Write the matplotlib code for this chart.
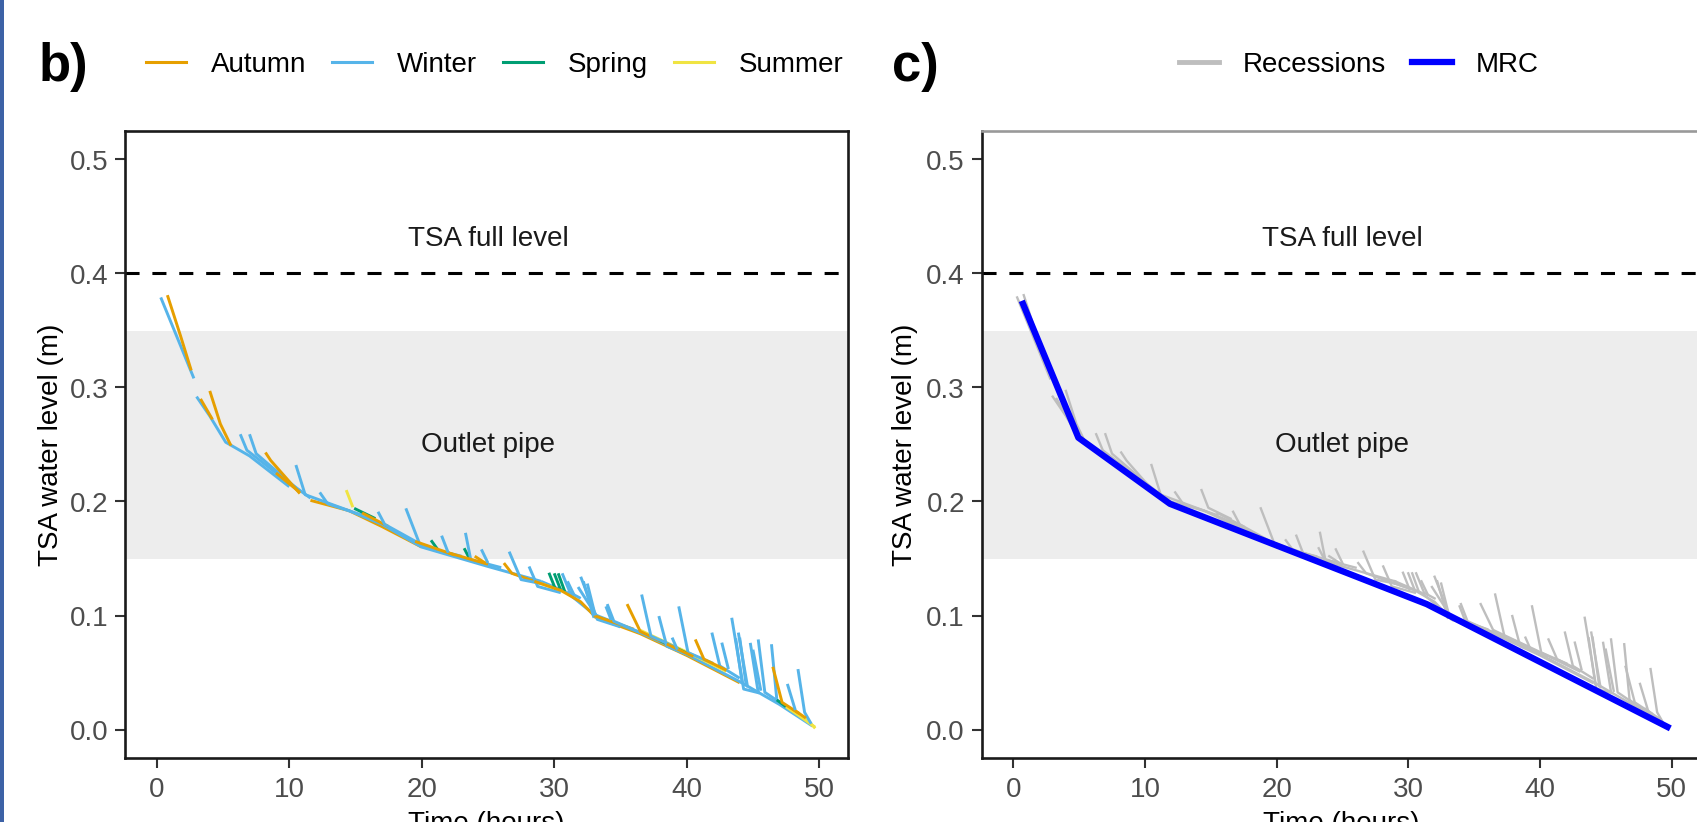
import matplotlib
matplotlib.use("Agg")
import matplotlib.pyplot as plt
from matplotlib.lines import Line2D
from matplotlib.patches import Rectangle

plt.rcParams['font.family'] = ['Liberation Sans', 'DejaVu Sans']

# ---------------- data ----------------
seasons = ['Autumn', 'Winter', 'Spring', 'Summer']
season_colors = {'Autumn': '#E69F00', 'Winter': '#56B4E9',
                 'Spring': '#009E73', 'Summer': '#F0E442'}

# individual recession curves (time in hours, TSA water level in m); one entry per row
rec_season = [
    'Autumn', 'Winter', 'Autumn', 'Winter',
    'Winter', 'Autumn', 'Winter', 'Autumn',
    'Autumn', 'Winter', 'Winter', 'Autumn',
    'Autumn', 'Winter', 'Winter', 'Summer',
    'Spring', 'Autumn', 'Winter', 'Winter',
    'Spring', 'Autumn', 'Spring', 'Winter',
    'Autumn', 'Autumn', 'Winter', 'Winter',
    'Summer', 'Spring', 'Spring', 'Spring',
    'Winter', 'Autumn', 'Winter', 'Winter',
    'Winter', 'Autumn', 'Winter', 'Winter',
    'Summer', 'Autumn', 'Spring', 'Winter',
    'Winter', 'Winter', 'Autumn', 'Winter',
    'Winter', 'Winter', 'Winter', 'Winter',
    'Winter', 'Winter', 'Winter', 'Spring',
    'Autumn', 'Winter', 'Summer', 'Autumn',
    'Summer', 'Winter', 'Autumn',
    'Winter', 'Winter', 'Autumn', 'Winter',
    'Winter', 'Winter', 'Winter', 'Winter',
]
rec_x = [
    [11.6, 14.5, 17.0, 20.0], [17.0, 20.0, 25.0, 29.0], [33.0, 36.5, 40.0, 44.0],
    [29.0, 31.0, 33.0, 36.5, 40.0, 44.0, 47.0, 49.5],
    [0.3, 1.5, 2.8], [0.8, 1.8, 2.6], [3.0, 4.0, 5.2, 7.0, 10.0], [4.0, 4.8, 5.6],
    [3.3, 4.2], [6.3, 6.8, 9.0, 11.6], [7.0, 7.5, 10.5], [8.2, 8.6, 10.8],
    [9.0, 10.8], [10.5, 11.2, 14.5, 17.0], [12.3, 12.9, 15.5], [14.3, 14.8],
    [14.9, 16.5], [15.5, 17.5], [16.7, 17.2, 20.0], [18.8, 19.9, 23.0],
    [20.7, 21.2], [19.5, 21.5, 22.5], [23.2, 23.6], [23.3, 23.7, 26.0],
    [22.0, 25.0], [26.2, 26.8, 28.5], [26.6, 27.5, 29.0], [28.1, 28.75, 30.5],
    [29.0, 30.0], [29.6, 30.1], [30.0, 30.5], [30.3, 30.8],
    [30.6, 31.2, 32.0], [28.5, 30.5, 32.0, 33.0], [32.0, 33.25, 35.0], [32.2, 33.0],
    [31.8, 33.4], [33.0, 36.0], [33.9, 34.3], [34.0, 34.5, 36.5],
    [36.5, 40.0, 43.0], [35.5, 36.5, 39.0], [38.0, 40.0], [36.6, 37.3, 39.0],
    [37.9, 38.5, 40.0], [39.4, 40.1, 42.0], [38.5, 40.5], [38.9, 39.3],
    [41.9, 42.5, 44.0], [42.65, 43.15], [43.4, 44.3, 45.5], [43.7, 44.2],
    [44.0, 44.5], [44.8, 45.4], [45.4, 45.9, 47.0], [46.8, 47.5],
    [40.65, 41.3, 43.0], [46.4, 46.8], [47.5, 48.5, 49.7], [46.5, 47.2, 48.5],
    [49.0, 49.7], [48.4, 48.9, 49.4], [48.0, 49.0],
    [21.5, 22.0], [24.5, 25.0], [24.0, 24.8], [31.0, 31.5],
    [32.5, 33.1], [45.0, 45.6], [43.9, 44.6], [47.6, 48.2],
]
rec_y = [
    [0.201, 0.192, 0.178, 0.160], [0.180, 0.160, 0.143, 0.130], [0.099, 0.084, 0.065, 0.041],
    [0.130, 0.120, 0.101, 0.085, 0.066, 0.042, 0.022, 0.003],
    [0.379, 0.345, 0.308], [0.381, 0.345, 0.315], [0.292, 0.275, 0.252, 0.240, 0.213], [0.297, 0.268, 0.249],
    [0.290, 0.272], [0.259, 0.245, 0.225, 0.203], [0.259, 0.242, 0.212], [0.243, 0.236, 0.207],
    [0.225, 0.208], [0.232, 0.206, 0.192, 0.180], [0.208, 0.198, 0.188], [0.210, 0.195],
    [0.194, 0.185], [0.190, 0.178], [0.191, 0.180, 0.162], [0.194, 0.161, 0.152],
    [0.166, 0.158], [0.165, 0.157, 0.153], [0.159, 0.150], [0.1725, 0.149, 0.142],
    [0.155, 0.145], [0.146, 0.137, 0.130], [0.156, 0.1315, 0.128], [0.143, 0.1255, 0.120],
    [0.128, 0.124], [0.1375, 0.123], [0.137, 0.122], [0.137, 0.121],
    [0.137, 0.120, 0.115], [0.130, 0.122, 0.112, 0.100], [0.134, 0.0966, 0.090], [0.130, 0.098],
    [0.125, 0.096], [0.100, 0.088], [0.108, 0.096], [0.110, 0.095, 0.085],
    [0.087, 0.068, 0.051], [0.110, 0.086, 0.072], [0.078, 0.067], [0.1184, 0.082, 0.073],
    [0.0995, 0.073, 0.066], [0.108, 0.0675, 0.058], [0.075, 0.064], [0.0806, 0.070],
    [0.085, 0.0558, 0.045], [0.0762, 0.053], [0.098, 0.0355, 0.032], [0.080, 0.040],
    [0.0806, 0.038], [0.076, 0.0326], [0.079, 0.0326, 0.024], [0.026, 0.020],
    [0.079, 0.0617, 0.052], [0.0748, 0.0267], [0.020, 0.012, 0.002], [0.055, 0.0238, 0.014],
    [0.010, 0.001], [0.053, 0.0151, 0.005], [0.018, 0.010],
    [0.170, 0.155], [0.158, 0.146], [0.152, 0.146], [0.130, 0.118],
    [0.128, 0.100], [0.070, 0.034], [0.085, 0.037], [0.040, 0.017],
]

# master recession curve
mrc_x = [0.65, 4.95, 11.9, 31.4, 49.9]
mrc_y = [0.376, 0.256, 0.198, 0.110, 0.001]

full_level = 0.4
outlet_low, outlet_high = 0.15, 0.35
x_ticks = [0, 10, 20, 30, 40, 50]
y_ticks = [0.0, 0.1, 0.2, 0.3, 0.4, 0.5]
y_ticklabels = ['0.0', '0.1', '0.2', '0.3', '0.4', '0.5']

# ---------------- figure ----------------
W, H = 1697, 822
fig = plt.figure(figsize=(W / 100, H / 100), dpi=100)
fig.patch.set_facecolor('white')
fig.add_artist(Rectangle((0, 0), 4 / W, 1, transform=fig.transFigure,
                         facecolor='#3D62A6', edgecolor='none'))

ax1 = fig.add_axes([125 / W, 64 / H, 723.3 / W, 627 / H])
ax2 = fig.add_axes([981.6 / W, 64 / H, 719 / W, 627 / H])

tick_col = '#4D4D4D'
for ax in (ax1, ax2):
    ax.set_xlim(-2.4, 52.2)
    ax.set_ylim(-0.025, 0.525)
    ax.axhspan(outlet_low, outlet_high, color='#EDEDED', zorder=0, lw=0)
    ax.axhline(full_level, color='black', lw=2.2, linestyle=(0, (4.6, 4.2)), zorder=1)
    ax.text(25, 0.43, 'TSA full level', fontsize=20, ha='center', va='center', color='#1A1A1A')
    ax.text(25, 0.25, 'Outlet pipe', fontsize=20, ha='center', va='center', color='#1A1A1A')
    ax.set_xticks(x_ticks)
    ax.set_xticklabels([str(t) for t in x_ticks])
    ax.set_yticks(y_ticks)
    ax.set_yticklabels(y_ticklabels)
    ax.tick_params(axis='both', length=7, width=1.5, color='#333333',
                   labelsize=20, labelcolor=tick_col)
    ax.tick_params(axis='x', pad=7)
    ax.tick_params(axis='y', pad=5)
    for s in ax.spines.values():
        s.set_linewidth(1.9)
        s.set_color('#1A1A1A')
    ax.set_xlabel('Time (hours)', fontsize=20, color='black')
    ax.set_ylabel('TSA water level (m)', fontsize=20, color='black')
    ax.xaxis.set_label_coords(0.5, -0.0845)

ax1.yaxis.set_label_coords(-0.085, 0.5)
ax2.yaxis.set_label_coords(-0.088, 0.5)
ax2.spines['top'].set_color('#999999')

# panel b: recessions coloured by season
for s, xs, ys in zip(rec_season, rec_x, rec_y):
    ax1.plot(xs, ys, color=season_colors[s], lw=2.1, solid_capstyle='butt', zorder=3)

# panel c: recessions in grey + MRC
for xs, ys in zip(rec_x, rec_y):
    ax2.plot(xs, ys, color='#BEBEBE', lw=1.7, zorder=3)
ax2.plot(mrc_x, mrc_y, color='#0000FF', lw=4.6, zorder=4, solid_capstyle='butt')

# legends
h1 = [Line2D([], [], color=season_colors[s], lw=2.2) for s in seasons]
fig.legend(h1, seasons, loc='center left', bbox_to_anchor=(146 / W, 1 - 65 / H),
           ncol=4, frameon=False, fontsize=20, handlelength=1.44, handletextpad=0.9,
           columnspacing=0.93, borderaxespad=0, borderpad=0)
h2 = [Line2D([], [], color='#BEBEBE', lw=3.5), Line2D([], [], color='#0000FF', lw=4.5)]
fig.legend(h2, ['Recessions', 'MRC'], loc='center left', bbox_to_anchor=(1179 / W, 1 - 65 / H),
           ncol=2, frameon=False, fontsize=20, handlelength=1.44, handletextpad=0.85,
           columnspacing=0.93, borderaxespad=0, borderpad=0)

fig.text(63 / W, 1 - 67 / H, 'b)', fontsize=38, fontweight='bold', ha='center', va='center')
fig.text(915 / W, 1 - 67 / H, 'c)', fontsize=38, fontweight='bold', ha='center', va='center')

fig.savefig('out.png', dpi=100)
